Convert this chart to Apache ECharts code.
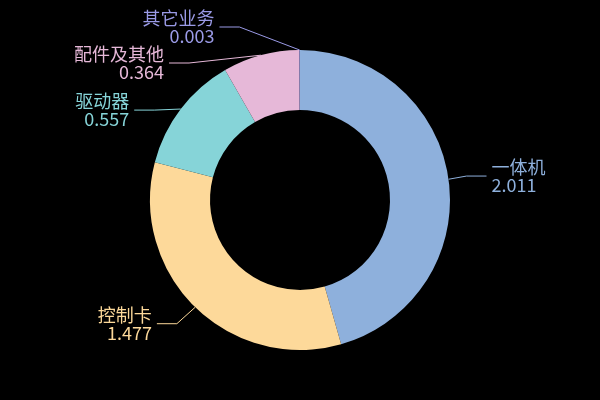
<!DOCTYPE html>
<html>
<head>
<meta charset="utf-8">
<script src="https://cdn.jsdelivr.net/npm/echarts@6/dist/echarts.min.js"></script>
<style>
  html, body { margin: 0; padding: 0; background: #000; }
  #chart { width: 600px; height: 400px; }
</style>
</head>
<body>
<div id="chart"></div>
<script>
const categories = ['一体机', '控制卡', '驱动器', '配件及其他', '其它业务'];
const values = [2.011, 1.477, 0.557, 0.364, 0.003];
const colors = ['#8EB0DC', '#FDD99A', '#86D4D8', '#E6B8D8', '#9A9AE6'];

const chart = echarts.init(document.getElementById('chart'));

// labels are first laid out by echarts without overlap handling, then
// stacked per side (shift on y, then x put back on an arc around the pie)
const textGap = 5;
let placed = null;
const rawLabels = [];

function placeLabel(params) {
  if (!placed) {
    rawLabels[params.dataIndex] = params;
    return {};
  }
  return placed[params.dataIndex];
}

function stackSide(list, cx, cy, r, viewHeight) {
  if (!list.length) return;
  list.sort((a, b) => a.y - b.y);

  function shiftUp(end, delta) {
    for (let j = end; j >= 0; j--) {
      if (list[j].y - delta < 0) break;
      list[j].y -= delta;
      if (j > 0 && list[j].y > list[j - 1].y + list[j - 1].height) break;
    }
  }
  function shiftDown(start, end, delta) {
    for (let j = start; j < end; j++) {
      if (list[j].y + delta > viewHeight) break;
      list[j].y += delta;
      if (j > start && j + 1 < end && list[j + 1].y > list[j].y + list[j].height) {
        shiftUp(j, delta / 2);
        return;
      }
    }
    shiftUp(end - 1, delta / 2);
  }

  let lastY = 0;
  for (let i = 0; i < list.length; i++) {
    const delta = list[i].y - lastY;
    if (delta < 0) shiftDown(i, list.length, -delta);
    lastY = list[i].y + list[i].height;
  }
  if (viewHeight - lastY < 0) shiftUp(list.length - 1, lastY - viewHeight);

  function changeX(items, isDown) {
    let lastDx = isDown ? Number.MAX_VALUE : 0;
    items.forEach(item => {
      const dy = Math.abs(item.y - cy);
      const full = r + item.len + item.len2;
      let dx = dy < r + item.len + 0.5
        ? Math.sqrt(Math.max(full * full - dy * dy, 0))
        : Math.abs(item.x - cx);
      if (isDown && dx >= lastDx) dx = lastDx - 10;
      if (!isDown && dx <= lastDx) dx = lastDx + 10;
      item.x = cx + dx * item.dir;
      lastDx = dx;
    });
  }
  changeX(list.filter(it => it.y < cy), false);
  changeX(list.filter(it => it.y >= cy), true);
}

function stackLabels(raw, cx, cy, viewHeight) {
  const p0 = raw[0].labelLinePoints[0];
  const r = Math.hypot(p0[0] - cx, p0[1] - cy);
  const left = [];
  const right = [];
  raw.forEach((p, i) => {
    const pts = p.labelLinePoints;
    const dir = pts[2][0] < pts[1][0] ? -1 : 1;
    const item = {
      i: i,
      pts: pts,
      dir: dir,
      len: Math.hypot(pts[1][0] - pts[0][0], pts[1][1] - pts[0][1]),
      len2: Math.abs(pts[2][0] - pts[1][0]),
      x: pts[2][0] + dir * textGap,
      y: pts[2][1],
      height: p.labelRect.height
    };
    (dir < 0 ? left : right).push(item);
  });
  stackSide(left, cx, cy, r, viewHeight);
  stackSide(right, cx, cy, r, viewHeight);

  const out = [];
  left.concat(right).forEach(item => {
    const lineEnd = item.x - item.dir * textGap;
    out[item.i] = {
      x: item.x,
      y: item.y,
      align: item.dir < 0 ? 'right' : 'left',
      verticalAlign: 'middle',
      labelLinePoints: [
        item.pts[0].slice(),
        [lineEnd - item.dir * item.len2, item.y],
        [lineEnd, item.y]
      ]
    };
  });
  return out;
}

const option = {
  backgroundColor: '#000',
  animation: false,
  color: colors,
  series: [
    {
      type: 'pie',
      center: ['50%', '50%'],
      radius: ['45%', '75%'],
      startAngle: 90,
      avoidLabelOverlap: false,
      label: {
        show: true,
        formatter: '{b}\n{c}',
        fontSize: 18,
        lineHeight: 18,
        fontFamily: 'Noto Sans CJK SC'
      },
      labelLine: {
        length: 23,
        length2: 20
      },
      labelLayout: placeLabel,
      data: categories.map((name, i) => ({
        name: name,
        value: values[i],
        label: { color: colors[i] },
        labelLine: { lineStyle: { color: colors[i] } }
      }))
    }
  ]
};

chart.setOption(option);
if (rawLabels.length === categories.length) {
  placed = stackLabels(rawLabels, chart.getWidth() / 2, chart.getHeight() / 2, chart.getHeight());
  chart.setOption(option, true);
}
</script>
</body>
</html>
